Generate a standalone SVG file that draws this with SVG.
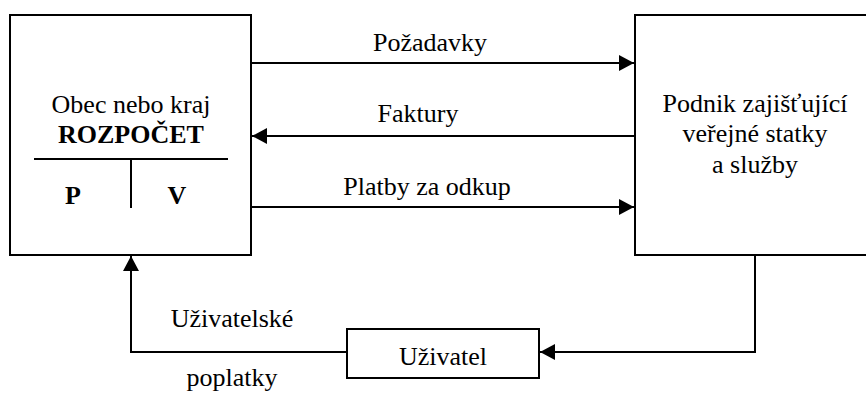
<svg xmlns="http://www.w3.org/2000/svg" width="866" height="394" viewBox="0 0 866 394" font-family="Liberation Serif, serif">
<style>
.box{fill:#fff;stroke:#000;stroke-width:2}
.ln{fill:none;stroke:#000;stroke-width:2}
.t{font-family:'Liberation Serif',serif;font-size:26px;fill:#000;text-anchor:middle}
.b{font-weight:bold}
</style>
<defs>
<marker id="ah" viewBox="0 0 15 16" refX="15" refY="8" markerWidth="15" markerHeight="16" markerUnits="userSpaceOnUse" orient="auto">
<path d="M0,0 L15,8 L0,16 Z" fill="#000"/>
</marker>
</defs>
<rect width="866" height="394" fill="#fff"/>
<g id="connectors">
<line class="ln" x1="251" y1="63" x2="634" y2="63" marker-end="url(#ah)"/>
<line class="ln" x1="635" y1="136" x2="252" y2="136" marker-end="url(#ah)"/>
<line class="ln" x1="251" y1="207" x2="634" y2="207" marker-end="url(#ah)"/>
<polyline class="ln" points="755,255 755,352 540,352" marker-end="url(#ah)"/>
<polyline class="ln" points="347,352 131,352 131,256" marker-end="url(#ah)"/>
<text class="t" x="430" y="51">Požadavky</text>
<text class="t" x="418" y="122">Faktury</text>
<text class="t" x="427" y="195">Platby za odkup</text>
<text class="t" x="232" y="327">Uživatelské</text>
<text class="t" x="232" y="386">poplatky</text>
</g>
<g id="obec">
<rect class="box" x="10" y="15" width="241" height="240"/>
<text class="t" x="131" y="113">Obec nebo kraj</text>
<text class="t b" x="131" y="143">ROZPOČET</text>
<line class="ln" x1="34" y1="159" x2="228" y2="159"/>
<line class="ln" x1="131" y1="159" x2="131" y2="208"/>
<text class="t b" x="73" y="204">P</text>
<text class="t b" x="177" y="204">V</text>
</g>
<g id="podnik">
<rect class="box" x="635" y="15" width="240" height="240"/>
<text class="t" x="755" y="112">Podnik zajišťující</text>
<text class="t" x="755" y="142">veřejné statky</text>
<text class="t" x="755" y="173">a služby</text>
</g>
<g id="uzivatel">
<rect class="box" x="347" y="329" width="192" height="49"/>
<text class="t" x="443" y="365">Uživatel</text>
</g>
</svg>
